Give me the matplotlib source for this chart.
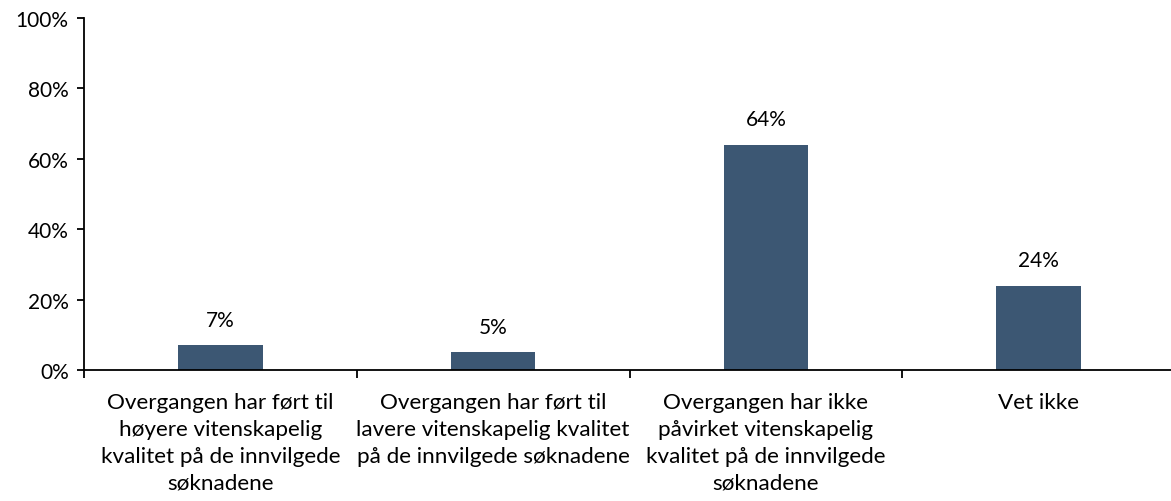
import matplotlib
matplotlib.use("Agg")
import matplotlib.pyplot as plt
from matplotlib.ticker import FixedLocator, PercentFormatter

categories = [
    "Overgangen har ført til\nhøyere vitenskapelig\nkvalitet på de innvilgede\nsøknadene",
    "Overgangen har ført til\nlavere vitenskapelig kvalitet\npå de innvilgede søknadene",
    "Overgangen har ikke\npåvirket vitenskapelig\nkvalitet på de innvilgede\nsøknadene",
    "Vet ikke",
]
values = [7, 5, 64, 24]
labels = ["7%", "5%", "64%", "24%"]
yticks = [0, 20, 40, 60, 80, 100]

plt.rcParams['font.family'] = ['Lato', 'DejaVu Sans']

fig = plt.figure(figsize=(11.71, 5.02), dpi=100)
ax = fig.add_axes([84/1171, 131/502, 1091/1171, 352/502])

x = list(range(len(categories)))
ax.bar(x, values, width=0.31, color="#3C5773", zorder=2)
for xi, v, lab in zip(x, values, labels):
    ax.text(xi, v + 4.5, lab, ha="center", va="bottom", fontsize=15, color="black")

ax.set_xlim(-0.5, len(categories) - 0.5)
ax.set_ylim(0, 100)
ax.set_yticks(yticks)
ax.yaxis.set_major_formatter(PercentFormatter(decimals=0))
ax.tick_params(axis="y", length=5, width=1.3, labelsize=15, pad=6)

ax.xaxis.set_major_locator(FixedLocator([i - 0.5 for i in range(len(categories) + 1)]))
ax.set_xticklabels([])
ax.set_xticks(x, minor=True)
ax.set_xticklabels(categories, minor=True, fontsize=16.2, linespacing=1.42)
ax.tick_params(axis="x", which="minor", length=0, pad=16)
ax.tick_params(axis="x", which="major", length=6, width=1.3, direction="out")

for s in ["top", "right"]:
    ax.spines[s].set_visible(False)
ax.spines["left"].set_linewidth(1.3)
ax.spines["bottom"].set_linewidth(1.3)

fig.savefig("out.png", dpi=100)
